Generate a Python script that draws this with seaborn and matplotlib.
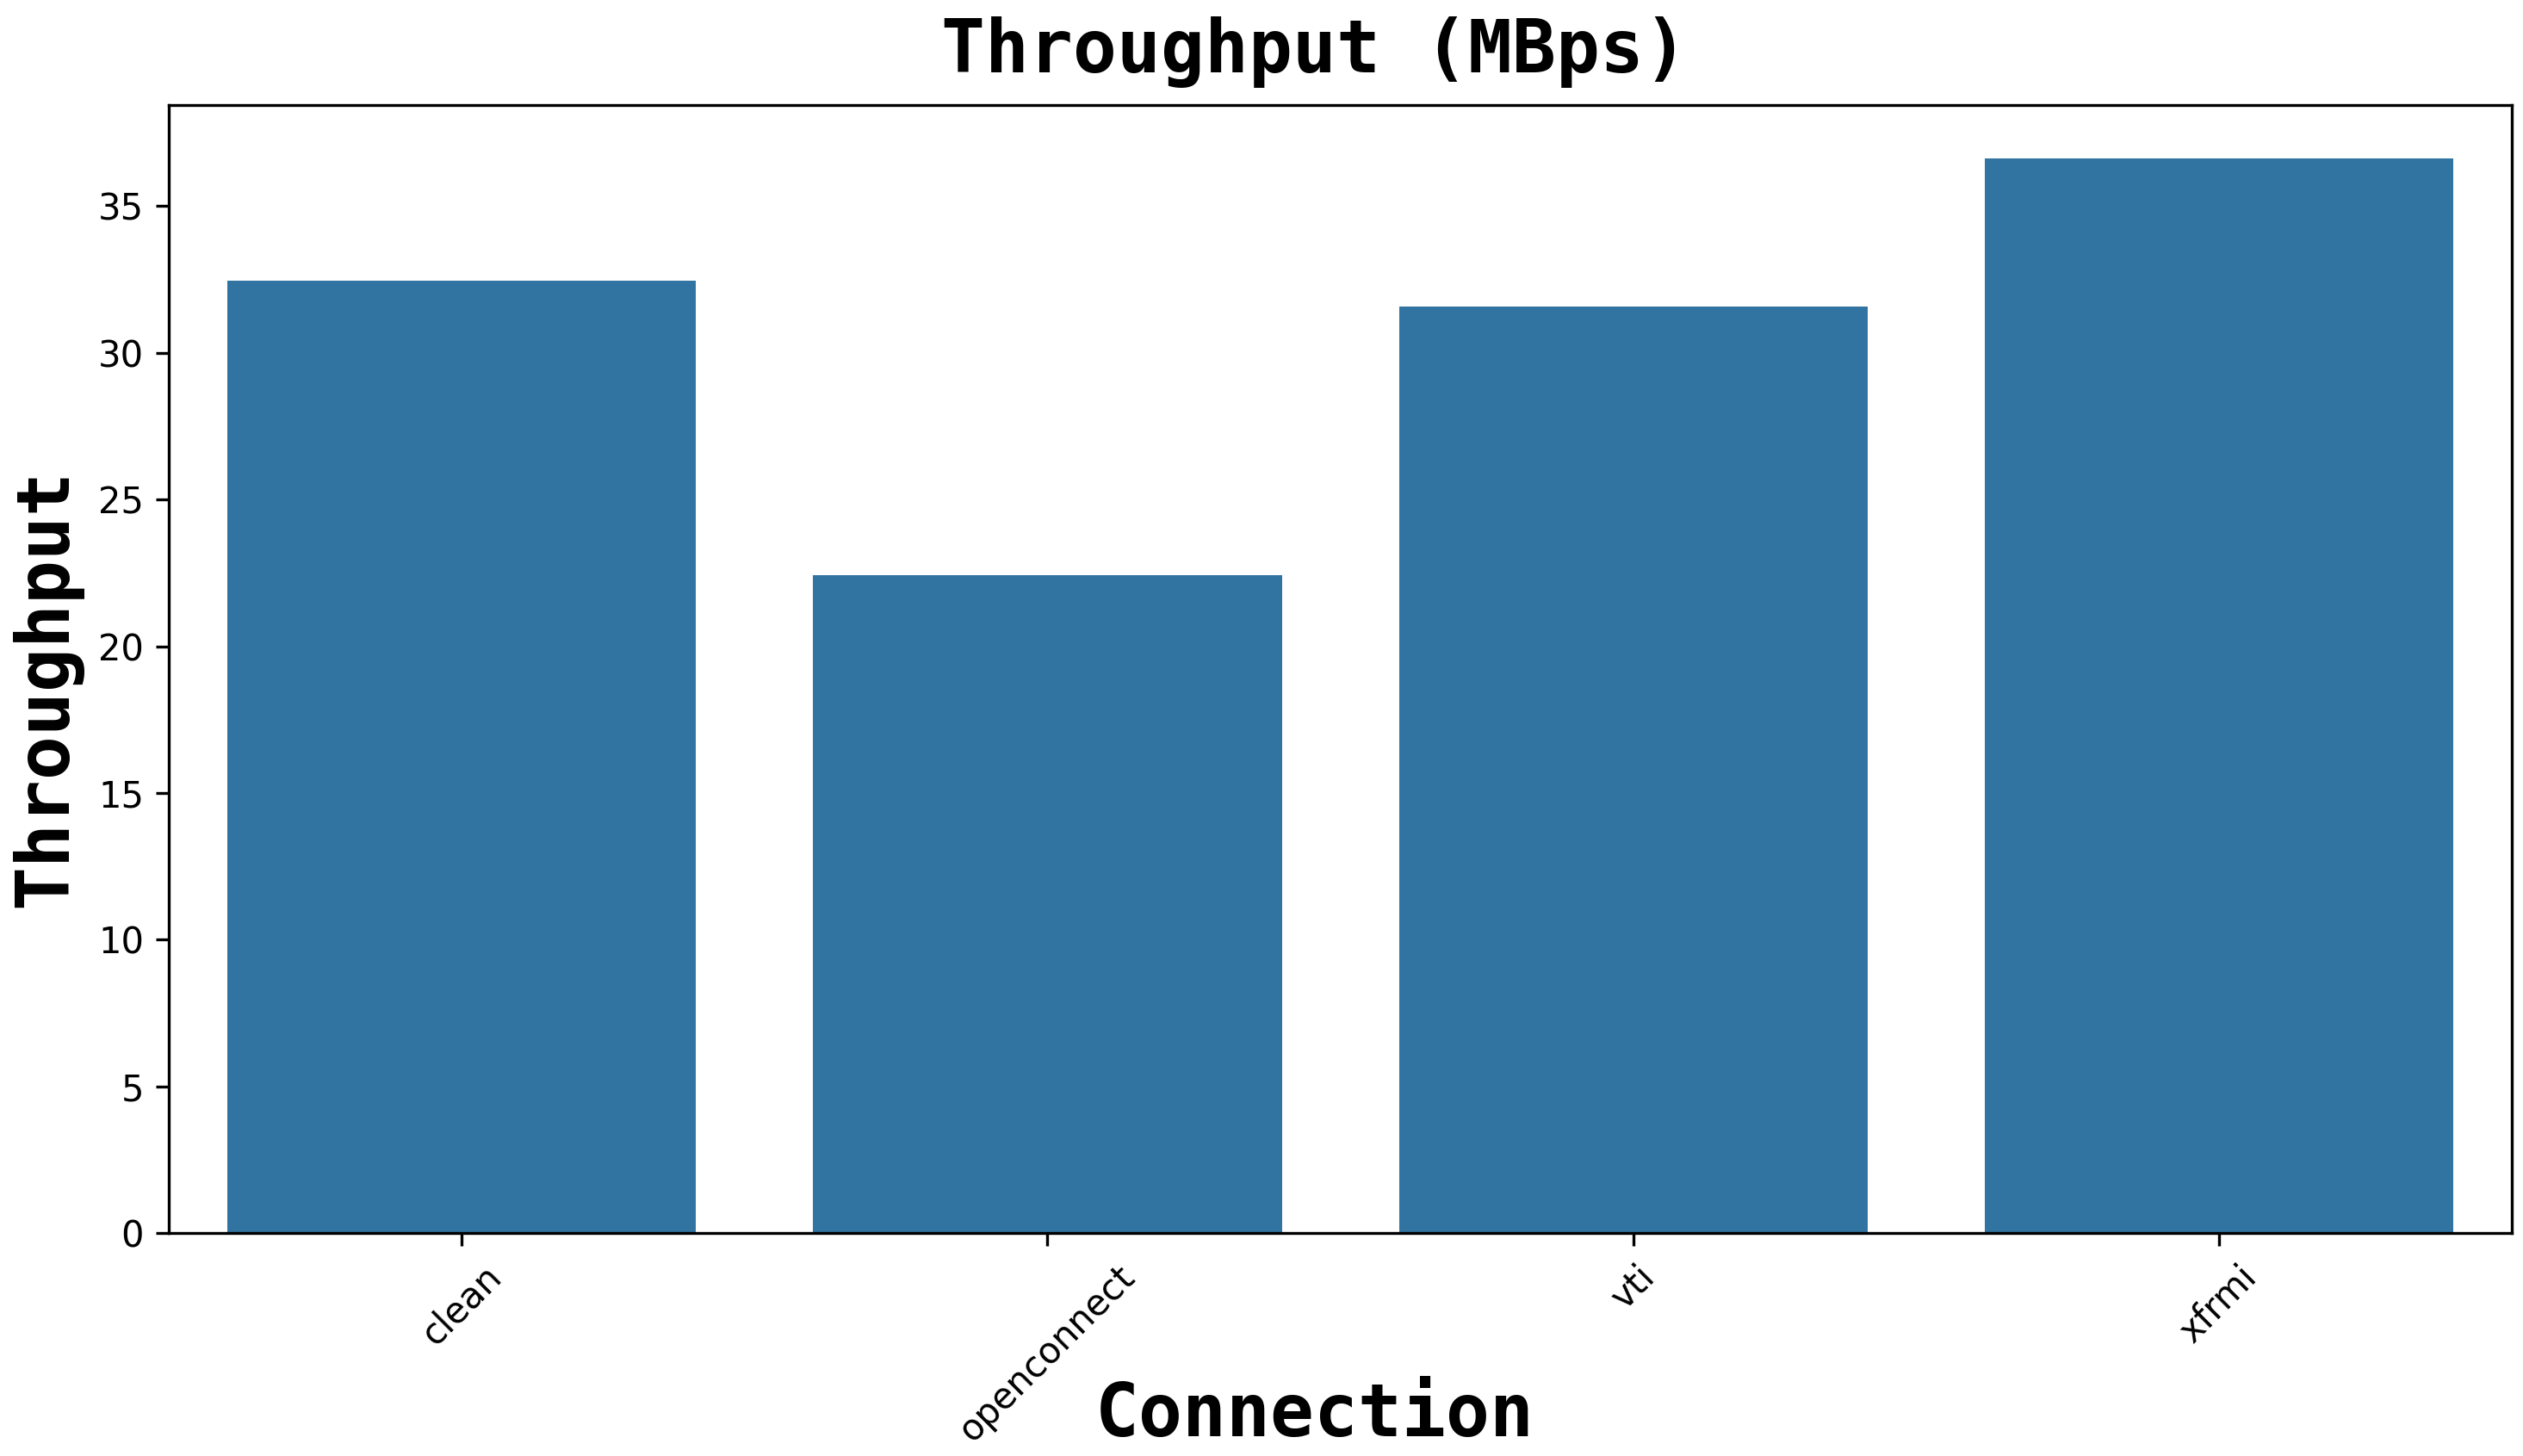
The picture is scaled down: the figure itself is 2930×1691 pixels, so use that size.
import matplotlib
matplotlib.use("Agg")
import matplotlib.pyplot as plt
import seaborn as sns
from pandas import DataFrame as df

# values
connections = ["clean", "openconnect", "vti", "xfrmi"]
throughput = [32.46, 22.43, 31.59, 36.62]

data = df({"Connection": connections, "Throughput": throughput})

fig = plt.figure(figsize=(2930/300, 1691/300), dpi=300)
ax = fig.add_axes([0.067, 0.153, 0.9285, 0.775])
sns.barplot(data=data, x="Connection", y="Throughput", ax=ax)

mono = {"family": "DejaVu Sans Mono", "weight": "bold", "size": 20.3}
ax.set_title("Throughput (MBps)", fontdict=mono, x=0.489, pad=9)
ax.set_xlabel("Connection", fontdict=mono)
ax.set_ylabel("Throughput", fontdict=mono)
plt.xticks(rotation=45)
ax.xaxis.set_label_coords(0.489, -0.13)
ax.yaxis.set_label_coords(-0.037, 0.483)

plt.savefig("out.png", dpi=300)
